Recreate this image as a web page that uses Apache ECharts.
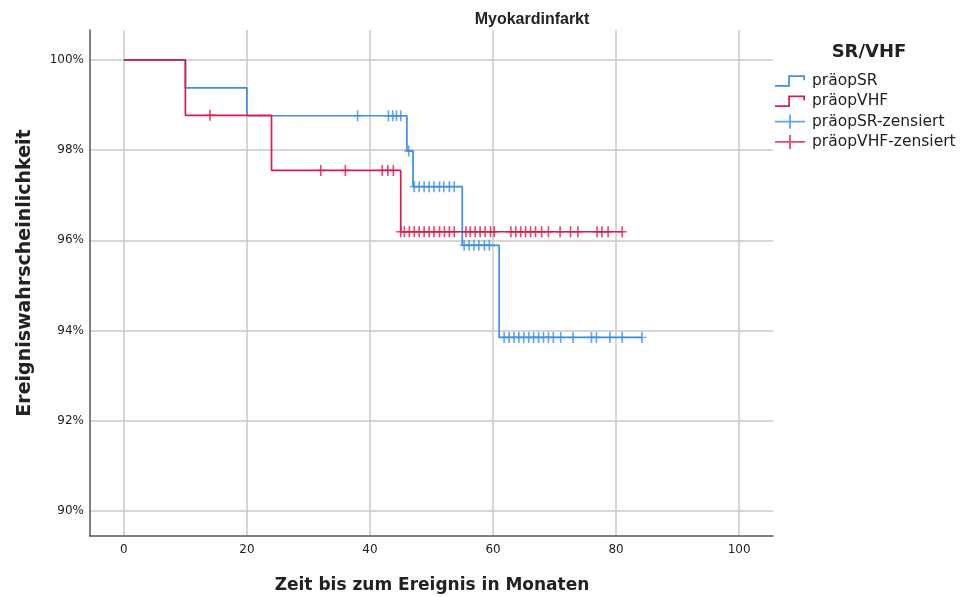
<!DOCTYPE html>
<html>
<head>
<meta charset="utf-8">
<script src="https://cdn.jsdelivr.net/npm/echarts@6/dist/echarts.min.js"></script>
<style>
html, body { margin: 0; padding: 0; background: #fff; }
#main { width: 960px; height: 597px; }
</style>
</head>
<body>
<div id="main"></div>
<script>
// Kaplan-Meier steps
var srTimes = [0, 10, 20, 46, 47, 55, 61];
var srSurv = [100, 99.38, 98.76, 97.98, 97.19, 95.89, 93.85];
var srLast = 84.2;

var vhfTimes = [0, 10, 24, 45];
var vhfSurv = [100, 98.77, 97.55, 96.19];
var vhfLast = 81;

// censored times (Monate)
var srCensored = [38, 43, 43.7, 44.3, 45, 46.3, 47.2, 48, 48.8, 49.6, 50.4, 51.3, 52, 52.9, 53.7,
    55.3, 56.1, 56.9, 57.7, 58.6, 59.4, 61.8, 62.6, 63.4, 64.2, 65, 65.8, 66.6, 67.4, 68.2,
    69, 69.8, 71, 73, 76, 76.8, 79, 81, 84.2];
var vhfCensored = [14, 32, 36, 42, 42.9, 43.8, 45, 45.6, 46.4, 47.2, 48, 48.8, 49.6, 50.4, 51.3,
    52.1, 52.9, 53.7, 55.6, 56.3, 57.1, 57.9, 58.7, 59.6, 60.2, 62.9, 63.7, 64.5, 65.3, 66.1,
    66.9, 67.9, 69, 70.9, 72.6, 73.8, 76.9, 77.7, 78.7, 81];

var xTicks = [0, 20, 40, 60, 80, 100];
var yTicks = [90, 92, 94, 96, 98, 100];

var names = ['präopSR', 'präopVHF', 'präopSR-zensiert', 'präopVHF-zensiert'];
var blue = '#3d8fe6';
var red = '#dc1a4b';

function stepData(times, surv, last) {
    var out = times.map(function(t, i) { return [t, surv[i]] });
    out.push([last, surv[surv.length - 1]]);
    return out;
}

// survival value at time t (last step at or before t)
function survAt(times, surv, t) {
    var v = surv[0];
    for (var i = 0; i < times.length; i++) {
        if (times[i] <= t) v = surv[i];
    }
    return v;
}

function censData(cens, times, surv) {
    return cens.map(function(t) { return [t, survAt(times, surv, t)] });
}

var plusPath = 'path://M4.1,0 L5.9,0 L5.9,5.2 L10,5.2 L10,6.8 L5.9,6.8 L5.9,12 L4.1,12 L4.1,6.8 L0,6.8 L0,5.2 L4.1,5.2 Z';
var stepIcon = 'path://M0,9.8 L13.2,9.8 L13.2,0 L30,0 L30,5 L28.3,5 L28.3,1.7 L14.9,1.7 L14.9,11.5 L0,11.5 Z';
var crossIcon = 'path://M0,6.2 L14.1,6.2 L14.1,0 L15.9,0 L15.9,6.2 L30,6.2 L30,7.8 L15.9,7.8 L15.9,14 L14.1,14 L14.1,7.8 L0,7.8 Z';

var chart = echarts.init(document.getElementById('main'));

var font = 'DejaVu Sans';

var option = {
    animation: false,
    backgroundColor: '#fff',
    grid: { left: 90, right: 187, top: 30, bottom: 61 },
    xAxis: {
        type: 'value',
        min: -5.5,
        max: 105.5,
        axisLine: { onZero: false, lineStyle: { color: '#555', width: 1.5 } },
        axisTick: { show: false, customValues: xTicks },
        axisLabel: { customValues: xTicks, color: '#222', fontSize: 12, fontFamily: font, margin: 8 },
        splitLine: { show: true, lineStyle: { color: '#c9c9c9', width: 1.5 } }
    },
    yAxis: {
        type: 'value',
        min: 89.45,
        max: 100.66,
        axisLine: { show: true, onZero: false, lineStyle: { color: '#555', width: 1.5 } },
        axisTick: { show: false, customValues: yTicks },
        axisLabel: {
            customValues: yTicks, color: '#222', fontSize: 12, fontFamily: font, margin: 6,
            formatter: function(v) { return Math.round(v) + '%' }
        },
        splitLine: { show: true, lineStyle: { color: '#c9c9c9', width: 1.5 } }
    },
    legend: {
        orient: 'vertical',
        left: 775,
        top: 73,
        padding: 0,
        itemWidth: 30,
        itemHeight: 14,
        itemGap: 4.3,
        textStyle: { fontSize: 15.5, fontFamily: font, color: '#222', padding: [0, 0, 0, 2] },
        data: [
            { name: names[0], icon: stepIcon },
            { name: names[1], icon: stepIcon },
            { name: names[2], icon: crossIcon },
            { name: names[3], icon: crossIcon }
        ],
        itemStyle: { borderWidth: 0 }
    },
    graphic: [
        {
            type: 'text', x: 532, y: 20,
            style: { text: 'Myokardinfarkt', font: 'bold 16px "Liberation Sans"', fill: '#222', align: 'center', verticalAlign: 'middle' }
        },
        {
            type: 'text', x: 869, y: 52,
            style: { text: 'SR/VHF', font: 'bold 18px ' + font, fill: '#222', align: 'center', verticalAlign: 'middle' }
        },
        {
            type: 'text', x: 432, y: 586,
            style: { text: 'Zeit bis zum Ereignis in Monaten', font: 'bold 17px ' + font, fill: '#222', align: 'center', verticalAlign: 'middle' }
        },
        {
            type: 'text', x: 25, y: 273, rotation: Math.PI / 2,
            style: { text: 'Ereigniswahrscheinlichkeit', font: 'bold 19px ' + font, fill: '#222', align: 'center', verticalAlign: 'middle' }
        }
    ],
    series: [
        {
            name: names[0], type: 'line', step: 'end', showSymbol: false,
            color: blue, lineStyle: { color: blue, width: 1.7 },
            data: stepData(srTimes, srSurv, srLast), z: 2
        },
        {
            name: names[1], type: 'line', step: 'end', showSymbol: false,
            color: red, lineStyle: { color: red, width: 1.7 },
            data: stepData(vhfTimes, vhfSurv, vhfLast), z: 3
        },
        {
            name: names[2], type: 'scatter', symbol: plusPath, symbolSize: [9, 11],
            itemStyle: { color: blue }, data: censData(srCensored, srTimes, srSurv), z: 4
        },
        {
            name: names[3], type: 'scatter', symbol: plusPath, symbolSize: [9, 11],
            itemStyle: { color: red }, data: censData(vhfCensored, vhfTimes, vhfSurv), z: 5
        }
    ]
};

chart.setOption(option);
</script>
</body>
</html>
